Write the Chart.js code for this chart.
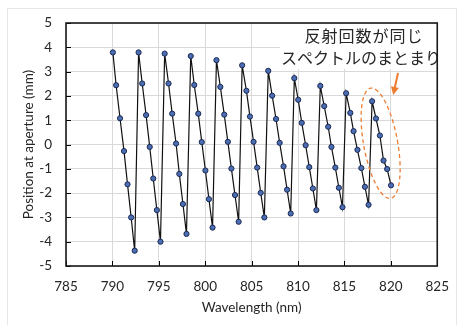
<!DOCTYPE html>
<html><head><meta charset="utf-8">
<script src="https://cdn.jsdelivr.net/npm/chart.js@4"></script>
<style>html,body{margin:0;padding:0;background:#fff}#wrap{width:462px;height:325px;position:relative}</style>
</head><body><div id="wrap"><canvas id="c" width="462" height="325"></canvas></div>
<script>
// Data
const wavelength = [
  790.05, 790.40, 790.82, 791.25, 791.63, 792.02, 792.40,
  792.82, 793.21, 793.63, 794.02, 794.40, 794.79, 795.18,
  795.63, 796.05, 796.44, 796.86, 797.21, 797.60, 797.98,
  798.44, 798.82, 799.25, 799.63, 800.02, 800.40, 800.79,
  801.21, 801.63, 802.05, 802.44, 802.82, 803.21, 803.60,
  803.98, 804.44, 804.82, 805.21, 805.60, 805.98, 806.37,
  806.79, 807.21, 807.63, 808.02, 808.44, 808.82, 809.21,
  809.60, 810.02, 810.40, 810.82, 811.21, 811.60, 811.98,
  812.40, 812.82, 813.25, 813.60, 814.02, 814.40, 814.79,
  815.18, 815.63, 815.98, 816.40, 816.82, 817.21, 817.60,
  817.98, 818.40, 818.82, 819.21, 819.60, 820.02
];
const positionMm = [
  3.79, 2.44, 1.08, -0.27, -1.64, -3.00, -4.37,
  3.79, 2.51, 1.21, -0.10, -1.40, -2.70, -4.00,
  3.74, 2.51, 1.27, 0.04, -1.21, -2.45, -3.68,
  3.64, 2.45, 1.27, 0.10, -1.07, -2.25, -3.42,
  3.47, 2.37, 1.23, 0.11, -0.99, -2.08, -3.18,
  3.26, 2.21, 1.15, 0.11, -0.95, -1.99, -3.00,
  3.03, 2.01, 1.05, 0.07, -0.90, -1.86, -2.84,
  2.73, 1.84, 0.89, -0.03, -0.93, -1.81, -2.70,
  2.41, 1.58, 0.73, -0.10, -0.95, -1.78, -2.58,
  2.11, 1.30, 0.55, -0.22, -0.97, -1.74, -2.48,
  1.78, 1.07, 0.37, -0.66, -1.01, -1.68
];
const xTickValues = [785, 790, 795, 800, 805, 810, 815, 820, 825];
const yTickValues = [-5, -4, -3, -2, -1, 0, 1, 2, 3, 4, 5];
const xTitle = 'Wavelength (nm)';
const yTitle = 'Position at aperture (mm)';
const noteLines = ['反射回数が同じ', 'スペクトルのまとまり'];
const highlightCenter = {x: 818.9, y: 0.05};

const points = wavelength.map((w, i) => ({x: w, y: positionMm[i]}));
const txtColor = '#262626';
const latin = 'Lato, "Liberation Sans", sans-serif';

const decor = {
  id: 'decor',
  beforeDatasetsDraw(chart) {
    const {ctx, chartArea: a} = chart;
    ctx.save();
    ctx.fillStyle = '#ffffff';
    ctx.fillRect(280, a.top + 1, a.right - 281, 45);
    ctx.fillStyle = '#262626';
    ctx.textAlign = 'center';
    ctx.textBaseline = 'middle';
    ctx.font = '16px "Noto Sans CJK JP"';
    try { ctx.letterSpacing = '1px'; } catch (e) {}
    ctx.fillText(noteLines[0], 364, 36);
    try { ctx.letterSpacing = '0px'; } catch (e) {}
    ctx.fillText(noteLines[1], 361, 58);
    ctx.restore();
  },
  afterDatasetsDraw(chart) {
    const {ctx, chartArea: a, scales: {x, y}} = chart;
    ctx.save();
    ctx.strokeStyle = '#000';
    ctx.lineWidth = 1;
    ctx.beginPath();
    xTickValues.forEach(v => { const px = Math.round(x.getPixelForValue(v)) + 0.5; ctx.moveTo(px, a.bottom); ctx.lineTo(px, a.bottom - 5); });
    yTickValues.forEach(v => { const py = Math.round(y.getPixelForValue(v)) + 0.5; ctx.moveTo(a.left, py); ctx.lineTo(a.left + 5, py); });
    ctx.stroke();
    ctx.lineWidth = 1.6;
    ctx.strokeStyle = '#1a1a1a';
    ctx.strokeRect(a.left, a.top, a.right - a.left, a.bottom - a.top);
    const cx = x.getPixelForValue(highlightCenter.x);
    const cy = y.getPixelForValue(highlightCenter.y);
    ctx.strokeStyle = '#ed7d31';
    ctx.lineWidth = 1.3;
    ctx.setLineDash([4, 3]);
    ctx.beginPath();
    ctx.ellipse(cx, cy, 17, 56, -10.3 * Math.PI / 180, 0, Math.PI * 2);
    ctx.stroke();
    ctx.setLineDash([]);
    ctx.lineWidth = 2;
    ctx.beginPath();
    ctx.moveTo(398, 73);
    ctx.lineTo(394.5, 89);
    ctx.stroke();
    ctx.fillStyle = '#ed7d31';
    ctx.beginPath();
    const tipX = 393.2, tipY = 95;
    const ang = Math.atan2(95 - 73, 393.2 - 398);
    const L = 8, W = 4;
    ctx.moveTo(tipX, tipY);
    ctx.lineTo(tipX - L * Math.cos(ang) + W * Math.sin(ang), tipY - L * Math.sin(ang) - W * Math.cos(ang));
    ctx.lineTo(tipX - L * Math.cos(ang) - W * Math.sin(ang), tipY - L * Math.sin(ang) + W * Math.cos(ang));
    ctx.closePath();
    ctx.fill();
    ctx.restore();
  },
  afterDraw(chart) {
    const {ctx} = chart;
    ctx.save();
    ctx.strokeStyle = '#e6e6e6';
    ctx.lineWidth = 1;
    ctx.strokeRect(7.5, 8.5, 449, 330);
    ctx.restore();
  }
};

new Chart(document.getElementById('c'), {
  type: 'line',
  data: {
    datasets: [{
      data: points,
      borderColor: '#111111',
      borderWidth: 1.2,
      pointRadius: 2.6,
      pointBackgroundColor: '#4a6db3',
      pointBorderColor: '#1c2a52',
      pointBorderWidth: 1,
      tension: 0,
      fill: false
    }]
  },
  options: {
    responsive: false,
    animation: false,
    devicePixelRatio: 1,
    layout: {padding: {top: 23, right: 16, bottom: 0, left: 0}},
    plugins: {legend: {display: false}, tooltip: {enabled: false}},
    scales: {
      x: {
        type: 'linear', min: 785, max: 825,
        afterBuildTicks: s => { s.ticks = xTickValues.map(v => ({value: v})); },
        afterFit: s => { s.height = 59; },
        grid: {color: '#d9d9d9', lineWidth: 1, drawTicks: false},
        border: {display: false},
        ticks: {padding: 13, color: txtColor, font: {family: latin, size: 13.5}, maxRotation: 0, callback: v => String(v)},
        title: {display: true, text: xTitle, color: txtColor, font: {family: latin, size: 13.5}, padding: {top: 0, bottom: 9}}
      },
      y: {
        type: 'linear', min: -5, max: 5,
        afterBuildTicks: s => { s.ticks = yTickValues.map(v => ({value: v})); },
        afterFit: s => { s.width = 66; },
        grid: {color: '#d9d9d9', lineWidth: 1, drawTicks: false},
        border: {display: false},
        ticks: {padding: 14, color: txtColor, font: {family: latin, size: 13.5}, callback: v => String(v)},
        title: {display: true, text: yTitle, color: txtColor, font: {family: latin, size: 13.5}, padding: {top: 21, bottom: 0}}
      }
    }
  },
  plugins: [decor]
});
</script>
</body></html>
